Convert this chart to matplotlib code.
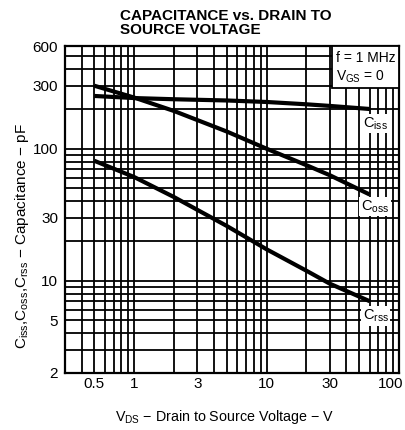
import matplotlib
matplotlib.use("Agg")
import matplotlib.pyplot as plt
from matplotlib.patches import Rectangle
import matplotlib.transforms as mtransforms

plt.rcParams['font.family'] = ['Liberation Sans', 'DejaVu Sans']
plt.rcParams['mathtext.fontset'] = 'custom'
plt.rcParams['mathtext.rm'] = 'Liberation Sans'
plt.rcParams['mathtext.it'] = 'Liberation Sans'
plt.rcParams['mathtext.bf'] = 'Liberation Sans:bold'

# Data
vds = [0.5, 1, 2, 5, 10, 20, 30, 60]
ciss = [251, 242, 237, 232, 226, 217, 211, 200]
coss = [300, 244, 193, 135, 100, 75, 63, 45]
crss = [81, 61, 43, 26, 17.3, 11.9, 9.5, 7.0]

x_ticks = [0.5, 1, 3, 10, 30, 100]
x_ticklabels = ['0.5', '1', '3', '10', '30', '100']
y_ticks = [2, 5, 10, 30, 100, 300, 600]
y_ticklabels = ['2', '5', '10', '30', '100', '300', '600']

fig = plt.figure(figsize=(4.06, 4.30), dpi=100)
ax = fig.add_axes([65/406, 1-373/430, (399-65)/406, (373-46)/430])
ax.set_xscale('log')
ax.set_yscale('log')
ax.set_xlim(0.3, 100)
ax.set_ylim(2, 600)

# grid lines
xg = [0.4, 0.5, 0.6, 0.7, 0.8, 0.9] + list(range(1, 10)) + list(range(10, 100, 10))
yg = list(range(2, 10)) + list(range(10, 100, 10)) + list(range(100, 600, 100))
for v in xg:
    ax.axvline(v, color='black', lw=1.3, zorder=1)
for v in yg:
    ax.axhline(v, color='black', lw=1.3, zorder=1)

for s in ax.spines.values():
    s.set_linewidth(1.6)

for series in (ciss, coss, crss):
    ax.plot(vds, series, color='black', lw=3.0, solid_capstyle='butt', zorder=3)

ax.set_xticks(x_ticks)
ax.set_xticklabels(x_ticklabels)
ax.set_yticks(y_ticks)
ax.set_yticklabels(y_ticklabels)
ax.minorticks_off()
ax.tick_params(length=0, labelsize=11)
ax.tick_params(axis='x', pad=3)
ax.tick_params(axis='y', pad=5)
# keep the last x label inside the figure
lastlab = ax.get_xticklabels()[-1]
lastlab.set_transform(lastlab.get_transform() +
                      mtransforms.ScaledTranslation(-8/100, 0, fig.dpi_scale_trans))

lab_bbox = dict(facecolor='white', edgecolor='none', pad=1)
ax.text(66, 155, r'C$_{\mathregular{iss}}$', fontsize=10.5, ha='center', va='center',
        bbox=lab_bbox, zorder=4)
ax.text(66, 36.5, r'C$_{\mathregular{oss}}$', fontsize=10.5, ha='center', va='center',
        bbox=lab_bbox, zorder=4)
ax.text(67, 5.4, r'C$_{\mathregular{rss}}$', fontsize=10.5, ha='center', va='center',
        bbox=lab_bbox, zorder=4)

# condition box
box = Rectangle(((332-65)/334, (373-88)/327), (399-332)/334, (88-46)/327,
                transform=ax.transAxes, facecolor='white', edgecolor='black',
                lw=1.3, zorder=5)
ax.add_patch(box)
ax.text((336-65)/334, (373-58)/327, 'f = 1 MHz', transform=ax.transAxes,
        fontsize=10, ha='left', va='center', zorder=6)
ax.text((336-65)/334, (373-77)/327, r'V$_{\mathregular{GS}}$ = 0', transform=ax.transAxes,
        fontsize=10, ha='left', va='center', zorder=6)

fig.text(120/406, 1-23/430, 'CAPACITANCE vs. DRAIN TO\nSOURCE VOLTAGE',
         fontsize=11, fontweight='bold', ha='left', va='center', linespacing=1.05)

fig.text(22/406, 1-236/430,
         r'C$_{\mathregular{iss}}$,C$_{\mathregular{oss}}$,C$_{\mathregular{rss}}$ − Capacitance − pF',
         rotation=90, fontsize=11, ha='center', va='center')
fig.text(225/406, 1-417/430, r'V$_{\mathregular{DS}}$ − Drain to Source Voltage − V',
         fontsize=10.3, ha='center', va='center')

fig.savefig('out.png', dpi=100)
